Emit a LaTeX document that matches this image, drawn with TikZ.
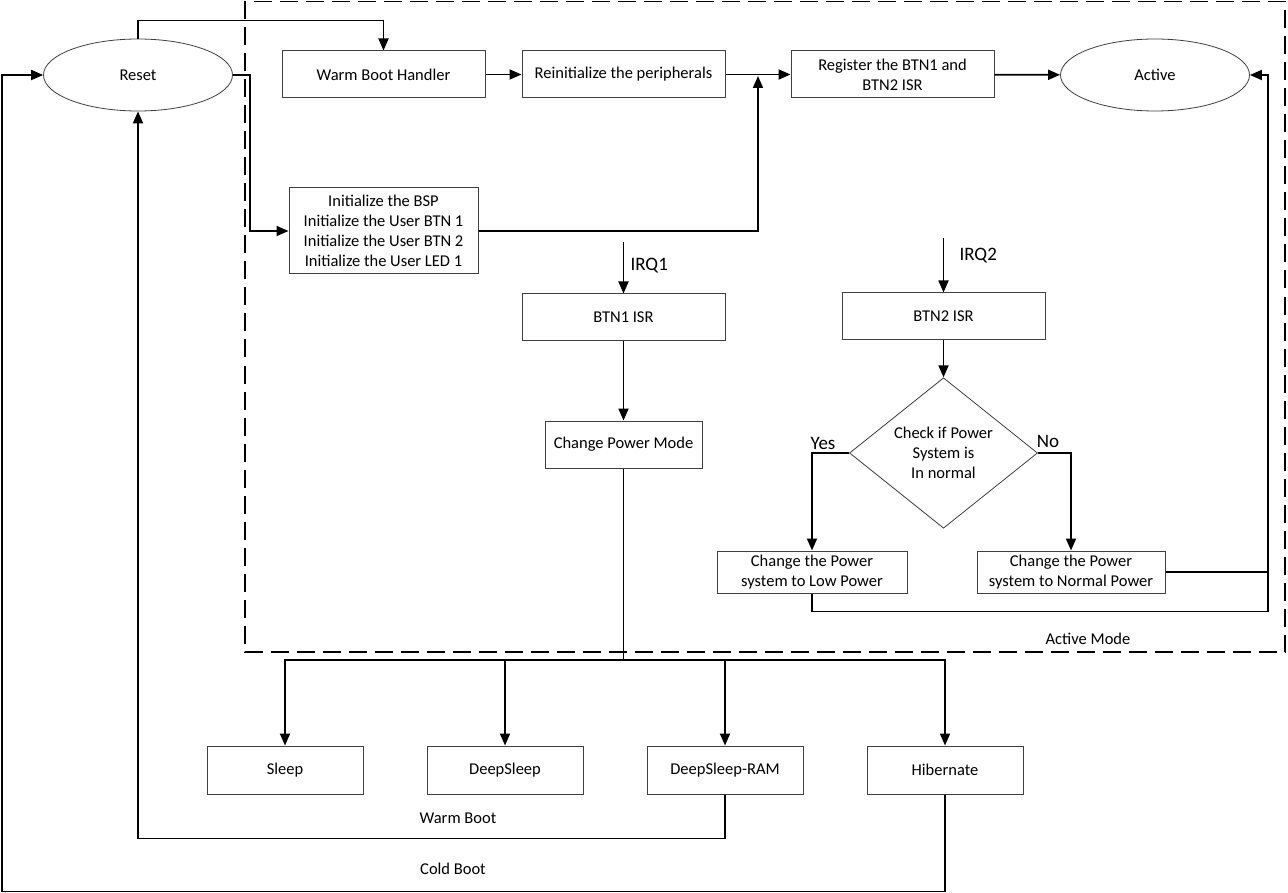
\documentclass[tikz,border=0pt]{standalone}
\usepackage{fontspec}
\setmainfont{Carlito}
\usetikzlibrary{shapes.geometric,arrows.meta}
\begin{document}
\begin{tikzpicture}[x=1pt,y=-1pt,
  txt/.style={font=\fontsize{16.5}{20}\selectfont},
  box/.style={txt,draw=black!75,line width=1pt,fill=white,align=center,inner sep=0pt},
  oval/.style={txt,ellipse,draw=black!75,line width=0.8pt,minimum width=189pt,minimum height=72pt,inner sep=0pt},
  conn/.style={line width=1.8pt},
  arr/.style={conn,-{Triangle[length=12pt,width=10pt]}},
  lbl/.style={font=\fontsize{19}{22}\selectfont}
]
\useasboundingbox (0,0) rectangle (1288,893);
% active mode frame
\draw[dash pattern=on 18pt off 8pt,line width=1.2pt] (245,1.5) -- (245,652) -- (1285,652) -- (1285,1.5) -- cycle;
% nodes
\node[oval] (reset) at (138,75) {Reset};
\node[box,minimum width=203pt,minimum height=47pt] (wbh) at (383.5,74.5) {Warm Boot Handler};
\node[box,minimum width=203pt,minimum height=47pt] (reinit) at (623.5,74.5) {Reinitialize the peripherals};
\node[box,minimum width=203pt,minimum height=47pt] (reg) at (892.5,74.5) {Register the BTN1 and\\BTN2 ISR};
\node[oval] (active) at (1155,75) {Active};
\node[box,minimum width=189pt,minimum height=86pt] (init) at (383.5,231) {Initialize the BSP\\Initialize the User BTN 1\\Initialize the User BTN 2\\Initialize the User LED 1};
\node[box,minimum width=203pt,minimum height=47pt] (btn1) at (623.5,317.5) {BTN1 ISR};
\node[box,minimum width=157pt,minimum height=47pt] (cpm) at (623.5,444.5) {Change Power Mode};
\node[box,minimum width=203pt,minimum height=47pt] (btn2) at (943.5,316.5) {BTN2 ISR};
\node[txt,diamond,draw=black!75,line width=0.8pt,minimum width=188pt,minimum height=144pt,inner sep=0pt,align=center] (dia) at (943.5,453) {Check if Power\\System is\\In normal};
\node[box,minimum width=190pt,minimum height=42pt] (low) at (812,572) {Change the Power\\system to Low Power};
\node[box,minimum width=188pt,minimum height=42pt] (norm) at (1071,572) {Change the Power\\system to Normal Power};
\node[box,minimum width=156pt,minimum height=48pt] (sleep) at (285,770) {Sleep};
\node[box,minimum width=156pt,minimum height=48pt] (deeps) at (505,770) {DeepSleep};
\node[box,minimum width=156pt,minimum height=48pt] (dsram) at (725,770) {DeepSleep-RAM};
\node[box,minimum width=156pt,minimum height=48pt] (hib) at (945,770) {Hibernate};
% coordinates
\coordinate (join) at (758,76);
\coordinate (irq1) at (623.5,242);
\coordinate (irq2) at (943.5,238);
\coordinate (bus) at (623.5,660);
% connectors
\draw[arr] (reset.north) -- ++(0,-18) -| (wbh.north);
\draw[arr] (reset.east) -- ++(17,0) |- (init.west);
\draw[arr] (wbh) -- (reinit);
\draw[arr] (reinit) -- (reg);
\draw[arr] (reg) -- (active);
\draw[arr] (init.east) -| (join);
\draw[arr] (irq1) -- (btn1.north);
\draw[arr] (irq2) -- (btn2.north);
\draw[arr] (btn1) -- (cpm);
\draw[arr] (btn2) -- (dia);
\draw[arr] (dia.west) -| (low.north);
\draw[arr] (dia.east) -| (norm.north);
\draw[arr] (low.south) -- ++(0,18) -| (1268,75) -- (active.east);
\draw[conn] (norm.east) -- ++(103,0);
\draw[conn] (cpm.south) -- (bus);
\draw[arr] (bus) -| (sleep.north);
\draw[arr] (bus) -| (deeps.north);
\draw[arr] (bus) -| (dsram.north);
\draw[arr] (bus) -| (hib.north);
\draw[arr] (dsram.south) -- ++(0,44) -| (reset.south);
\draw[arr] (hib.south) -- ++(0,97) -| (2,75) -- (reset.west);
% labels
\node[lbl,anchor=west] (l1) at (627,266) {IRQ1};
\node[lbl,anchor=west] (l2) at (956,256) {IRQ2};
\node[lbl] (ly) at (823,443) {Yes};
\node[lbl] (ln) at (1048,441) {No};
\node[txt] (lam) at (1088,639) {Active Mode};
\node[txt] (lwb) at (458,818) {Warm Boot};
\node[txt] (lcb) at (453,869) {Cold Boot};
\end{tikzpicture}
\end{document}
